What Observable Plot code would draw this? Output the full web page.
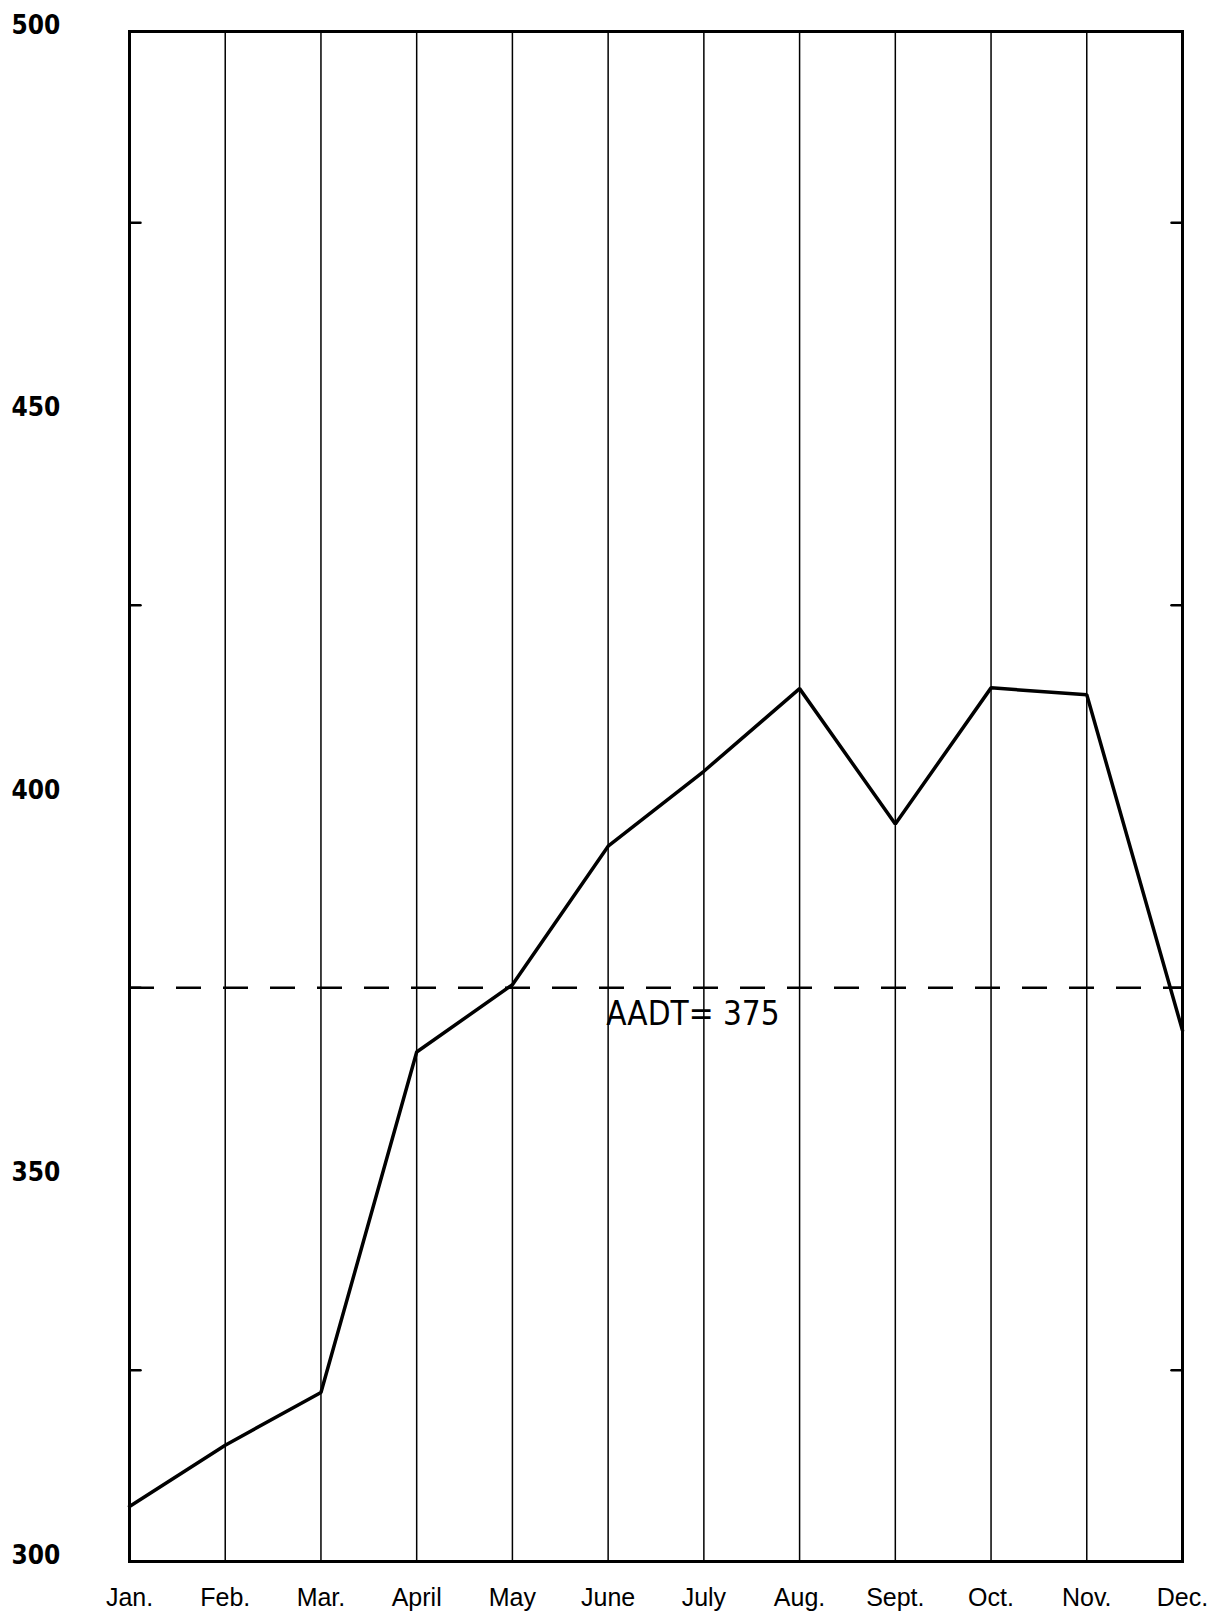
<!DOCTYPE html>
<html>
<head>
<meta charset="utf-8">
<script src="https://cdn.jsdelivr.net/npm/d3@7"></script>
<script src="https://cdn.jsdelivr.net/npm/@observablehq/plot@0.6"></script>
<style>
  html, body { margin: 0; padding: 0; background: #fff; }
  #chart svg { display: block; }
</style>
</head>
<body>
<div id="chart"></div>
<script>
const months = ["Jan.", "Feb.", "Mar.", "April", "May", "June", "July", "Aug.", "Sept.", "Oct.", "Nov.", "Dec."];
const values = [307.2, 315.2, 322.1, 366.6, 375.4, 393.5, 403.3, 414.1, 396.4, 414.2, 413.3, 369.4];
const yLabels = [500, 450, 400, 350, 300];
const minorTicks = [475, 425, 375, 325];
const aadt = 375;
const aadtLabel = "AADT= 375";

const data = months.map((m, i) => ({month: m, value: values[i]}));

const tickShape = { draw(context, l) { context.moveTo(0, 0); context.lineTo(0, -l); } };

const chart = Plot.plot({
  width: 1231,
  height: 1616,
  marginLeft: 129,
  marginRight: 49,
  marginTop: 31,
  marginBottom: 55,
  x: {type: "point", domain: months, padding: 0, round: false, axis: null},
  y: {domain: [300, 500], axis: null},
  marks: [
    Plot.ruleX(months.slice(1, -1), {stroke: "#000", strokeWidth: 1.5}),
    Plot.ruleY([aadt], {stroke: "#000", strokeWidth: 2.5, strokeDasharray: "25,22"}),
    Plot.vector(minorTicks, {x: () => months[0], y: d => d, length: 11, rotate: 90, anchor: "start", shape: tickShape, stroke: "#000", strokeWidth: 2.5}),
    Plot.vector(minorTicks, {x: () => months[months.length - 1], y: d => d, length: 11, rotate: -90, anchor: "start", shape: tickShape, stroke: "#000", strokeWidth: 2.5}),
    Plot.line(data, {x: "month", y: "value", stroke: "#000", strokeWidth: 3.5, strokeLinejoin: "miter"}),
    Plot.frame({stroke: "#000", strokeWidth: 3}),
    Plot.text(yLabels, {y: d => d, text: d => String(d), frameAnchor: "left", dx: -118, dy: -6, textAnchor: "start", fontSize: 26, fontWeight: "bold", fontFamily: "'DejaVu Sans Condensed', 'DejaVu Sans', sans-serif", fill: "#000"}),
    Plot.text(months, {x: d => d, text: d => d, frameAnchor: "bottom", dy: 36, lineAnchor: "middle", fontSize: 25, fontFamily: "'Liberation Sans', Arial, sans-serif", fill: "#000"}),
    Plot.text([aadtLabel], {x: () => "June", y: () => aadt, text: d => d, dx: -2, dy: 14, textAnchor: "start", lineAnchor: "top", fontSize: 33, fontWeight: 500, fontFamily: "'DejaVu Sans Condensed', 'DejaVu Sans', sans-serif", fill: "#000"})
  ]
});
document.getElementById("chart").appendChild(chart);
</script>
</body>
</html>
